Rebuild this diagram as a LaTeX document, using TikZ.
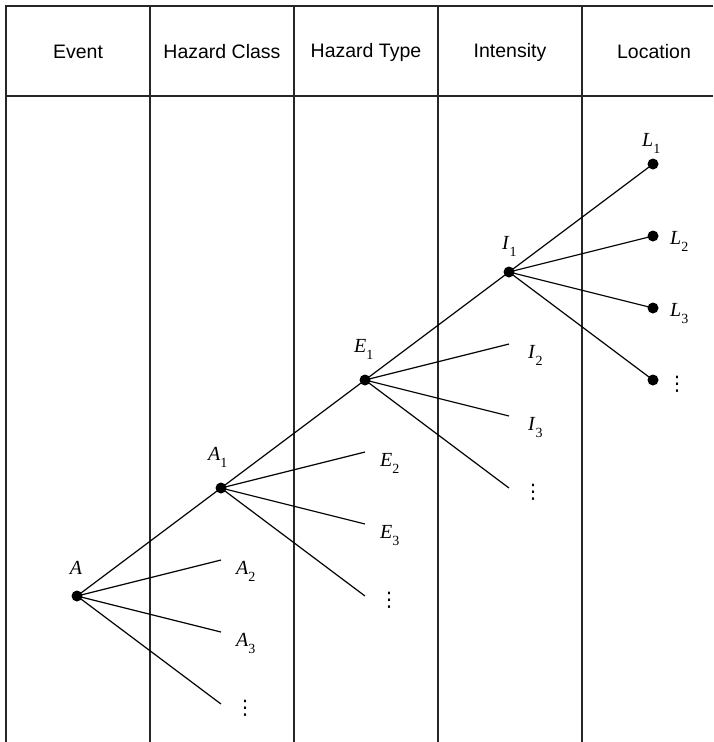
\documentclass[tikz,border=0pt]{standalone}
\usepackage{fontspec}
\setmainfont{Liberation Sans}
\newfontfamily\serifit{Liberation Serif}
\newfontfamily\djv{DejaVu Sans}
\usetikzlibrary{calc}
\newcommand{\lsub}[2]{\textit{#1}\raisebox{-7pt}{\fontsize{14}{14}\selectfont #2}}
\begin{document}
\begin{tikzpicture}[x=1pt,y=-1pt,
  grid/.style={line width=1.4pt, draw=black!85},
  br/.style={line width=1.2pt, draw=black},
  dot/.style={circle, fill=black, inner sep=0pt, minimum size=11pt},
  hdr/.style={font=\fontsize{19.5}{22}\selectfont},
  lab/.style={font=\serifit\fontsize{20}{22}\selectfont, inner sep=0pt},
  vd/.style={font=\djv\fontsize{20}{20}\selectfont, inner sep=0pt}]
\useasboundingbox (0,0) rectangle (713,742);
% table
\draw[grid] (6,742) -- (6,6) -- (713,6);
\draw[grid] (6,96) -- (713,96);
\foreach \x in {150,294,438,582} \draw[grid] (\x,6) -- (\x,742);
% headers
\node[hdr] (h1) at (78,52) {Event};
\node[hdr] (h2) at (222,52) {Hazard Class};
\node[hdr] (h3) at (366,52) {Hazard Type};
\node[hdr] (h4) at (510,52) {Intensity};
\node[hdr] (h5) at (654,52) {Location};
% tree points
\coordinate (A) at (77,596);
\coordinate (A1) at (221,488);
\coordinate (E1) at (365,380);
\coordinate (I1) at (509,272);
\coordinate (L1) at (653,164);
\coordinate (L2) at (653,236);
\coordinate (L3) at (653,308);
\coordinate (L4) at (653,380);
\coordinate (A2e) at (221,560);
\coordinate (A3e) at (221,632);
\coordinate (A4e) at (221,704);
\coordinate (E2e) at (365,452);
\coordinate (E3e) at (365,524);
\coordinate (E4e) at (365,596);
\coordinate (I2e) at (509,344);
\coordinate (I3e) at (509,416);
\coordinate (I4e) at (509,488);
% branches
\draw[br] (A) -- (A1);
\draw[br] (A) -- (A2e);
\draw[br] (A) -- (A3e);
\draw[br] (A) -- (A4e);
\draw[br] (A1) -- (E1);
\draw[br] (A1) -- (E2e);
\draw[br] (A1) -- (E3e);
\draw[br] (A1) -- (E4e);
\draw[br] (E1) -- (I1);
\draw[br] (E1) -- (I2e);
\draw[br] (E1) -- (I3e);
\draw[br] (E1) -- (I4e);
\draw[br] (I1) -- (L1);
\draw[br] (I1) -- (L2);
\draw[br] (I1) -- (L3);
\draw[br] (I1) -- (L4);
% dots
\foreach \p in {A,A1,E1,I1,L1,L2,L3,L4} \node[dot] (d\p) at (\p) {};
% labels at nodes
\node[lab, anchor=base] (tA) at (76,574) {\textit{A}};
\node[lab, anchor=base west] (tA1) at (208,460) {\lsub{A}{1}};
\node[lab, anchor=base west] (tE1) at (354,352) {\lsub{E}{1}};
\node[lab, anchor=base west] (tI1) at (502,249) {\lsub{I}{1}};
\node[lab, anchor=base west] (tL1) at (642,146) {\lsub{L}{1}};
% end labels
\node[lab, anchor=base west] (tA2) at ($(A2e)+(15,14)$) {\lsub{A}{2}};
\node[lab, anchor=base west] (tA3) at ($(A3e)+(15,14)$) {\lsub{A}{3}};
\node[vd] (tA4) at ($(A4e)+(24,4)$) {⋮};
\node[lab, anchor=base west] (tE2) at ($(E2e)+(15,14)$) {\lsub{E}{2}};
\node[lab, anchor=base west] (tE3) at ($(E3e)+(15,14)$) {\lsub{E}{3}};
\node[vd] (tE4) at ($(E4e)+(24,4)$) {⋮};
\node[lab, anchor=base west] (tI2) at ($(I2e)+(19,14)$) {\lsub{I}{2}};
\node[lab, anchor=base west] (tI3) at ($(I3e)+(19,14)$) {\lsub{I}{3}};
\node[vd] (tI4) at ($(I4e)+(24,4)$) {⋮};
\node[lab, anchor=base west] (tL2) at ($(L2)+(17,8)$) {\lsub{L}{2}};
\node[lab, anchor=base west] (tL3) at ($(L3)+(17,8)$) {\lsub{L}{3}};
\node[vd] (tL4) at ($(L4)+(24,4)$) {⋮};
\end{tikzpicture}
\end{document}
